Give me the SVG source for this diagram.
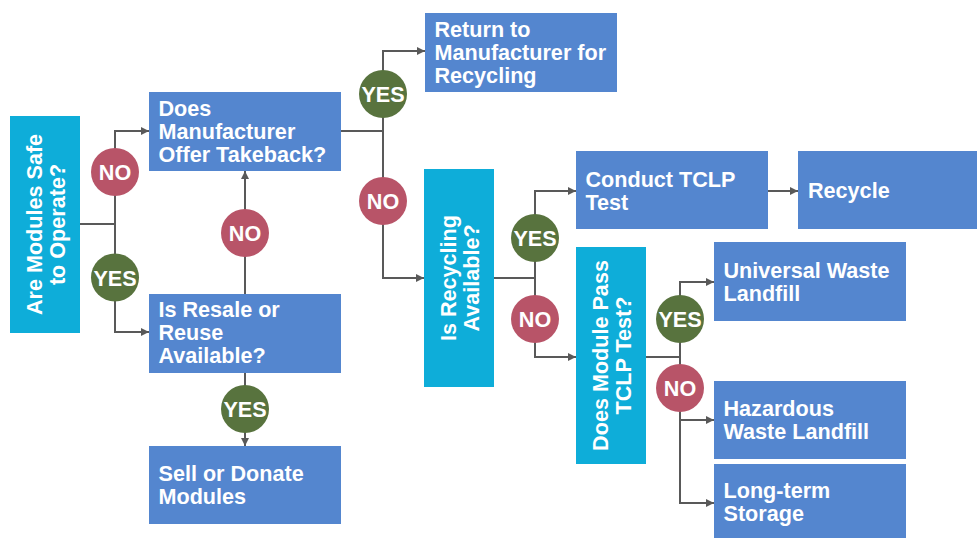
<svg xmlns="http://www.w3.org/2000/svg" width="977" height="538" viewBox="0 0 977 538">
<defs>
<marker id="arr" viewBox="0 0 10 10" refX="10" refY="5" markerWidth="9" markerHeight="8" markerUnits="userSpaceOnUse" orient="auto">
<path d="M0,0 L10,5 L0,10 Z" fill="#595959"/>
</marker>
</defs>
<style>
.box{fill:#5486CF}
.q{fill:#0EADD9}
.t{font-family:"Liberation Sans",Arial,sans-serif;font-weight:bold;font-size:21.6px;fill:#ffffff}
.c{font-family:"Liberation Sans",Arial,sans-serif;font-weight:bold;font-size:21.6px;fill:#ffffff;text-anchor:middle}
.yes{fill:#58733E}
.no{fill:#B85468}
.ln{fill:none;stroke:#595959;stroke-width:2}
.a{marker-end:url(#arr)}
</style>
<rect width="977" height="538" fill="#ffffff"/>
<g id="connectors">
<path class="ln" d="M80,224 H115"/>
<path class="ln a" d="M115,224 V131 H149"/>
<path class="ln a" d="M115,224 V332 H149"/>
<path class="ln a" d="M245,294 V171"/>
<path class="ln a" d="M245,373 V446"/>
<path class="ln" d="M341,131 H383"/>
<path class="ln a" d="M383,131 V51 H425"/>
<path class="ln a" d="M383,131 V278 H424"/>
<path class="ln" d="M494,278 H535"/>
<path class="ln a" d="M535,278 V191 H576"/>
<path class="ln a" d="M535,278 V357 H576"/>
<path class="ln a" d="M768,191 H798"/>
<path class="ln" d="M646,357 H680"/>
<path class="ln a" d="M680,357 V282 H714"/>
<path class="ln a" d="M680,357 V420 H714"/>
<path class="ln a" d="M680,357 V503 H714"/>
</g>
<g id="n-safe">
<rect class="q" x="10" y="116" width="70" height="217"/>
<text class="c" transform="translate(45,224.5) rotate(-90)"><tspan x="0" y="-3">Are Modules Safe</tspan><tspan x="0" y="20">to Operate?</tspan></text>
</g>
<g id="n-takeback">
<rect class="box" x="149" y="92" width="192" height="79"/>
<text class="t"><tspan x="158.5" y="116">Does</tspan><tspan x="158.5" y="139">Manufacturer</tspan><tspan x="158.5" y="162">Offer Takeback?</tspan></text>
</g>
<g id="n-resale">
<rect class="box" x="149" y="294" width="192" height="79"/>
<text class="t"><tspan x="158.5" y="317">Is Resale or</tspan><tspan x="158.5" y="340">Reuse</tspan><tspan x="158.5" y="363">Available?</tspan></text>
</g>
<g id="n-sell">
<rect class="box" x="149" y="446" width="192" height="78"/>
<text class="t"><tspan x="158.5" y="480.5">Sell or Donate</tspan><tspan x="158.5" y="503.5">Modules</tspan></text>
</g>
<g id="n-return">
<rect class="box" x="425" y="13" width="192" height="79"/>
<text class="t"><tspan x="434.5" y="37">Return to</tspan><tspan x="434.5" y="60">Manufacturer for</tspan><tspan x="434.5" y="83">Recycling</tspan></text>
</g>
<g id="n-recycling">
<rect class="q" x="424" y="169" width="70" height="218"/>
<text class="c" transform="translate(459,278) rotate(-90)"><tspan x="0" y="-3">Is Recycling</tspan><tspan x="0" y="20">Available?</tspan></text>
</g>
<g id="n-tclp">
<rect class="box" x="576" y="151" width="192" height="78"/>
<text class="t"><tspan x="585.5" y="186.5">Conduct TCLP</tspan><tspan x="585.5" y="209.5">Test</tspan></text>
</g>
<g id="n-recycle">
<rect class="box" x="798" y="151" width="179" height="78"/>
<text class="t" x="808" y="198">Recycle</text>
</g>
<g id="n-pass">
<rect class="q" x="576" y="247" width="70" height="217"/>
<text class="c" transform="translate(611,355.5) rotate(-90)"><tspan x="0" y="-3">Does Module Pass</tspan><tspan x="0" y="20">TCLP Test?</tspan></text>
</g>
<g id="n-universal">
<rect class="box" x="714" y="242" width="192" height="79"/>
<text class="t"><tspan x="723.5" y="278">Universal Waste</tspan><tspan x="723.5" y="301">Landfill</tspan></text>
</g>
<g id="n-hazardous">
<rect class="box" x="714" y="381" width="192" height="78"/>
<text class="t"><tspan x="723.5" y="415.5">Hazardous</tspan><tspan x="723.5" y="438.5">Waste Landfill</tspan></text>
</g>
<g id="n-storage">
<rect class="box" x="714" y="464" width="192" height="74"/>
<text class="t"><tspan x="723.5" y="497.5">Long-term</tspan><tspan x="723.5" y="520.5">Storage</tspan></text>
</g>
<g id="labels">
<g id="l1"><circle class="no" cx="115" cy="172" r="24"/><text class="c" x="115" y="180">NO</text></g>
<g id="l2"><circle class="yes" cx="115" cy="277.5" r="24"/><text class="c" x="115" y="285.5">YES</text></g>
<g id="l3"><circle class="no" cx="245" cy="233" r="24"/><text class="c" x="245" y="241">NO</text></g>
<g id="l4"><circle class="yes" cx="245" cy="409" r="24"/><text class="c" x="245" y="417">YES</text></g>
<g id="l5"><circle class="yes" cx="383" cy="94" r="24"/><text class="c" x="383" y="102">YES</text></g>
<g id="l6"><circle class="no" cx="383" cy="201" r="24"/><text class="c" x="383" y="209">NO</text></g>
<g id="l7"><circle class="yes" cx="535" cy="238" r="24"/><text class="c" x="535" y="246">YES</text></g>
<g id="l8"><circle class="no" cx="535" cy="319" r="24"/><text class="c" x="535" y="327">NO</text></g>
<g id="l9"><circle class="yes" cx="680" cy="319" r="24"/><text class="c" x="680" y="327">YES</text></g>
<g id="l10"><circle class="no" cx="680" cy="388" r="24"/><text class="c" x="680" y="396">NO</text></g>
</g>
</svg>
